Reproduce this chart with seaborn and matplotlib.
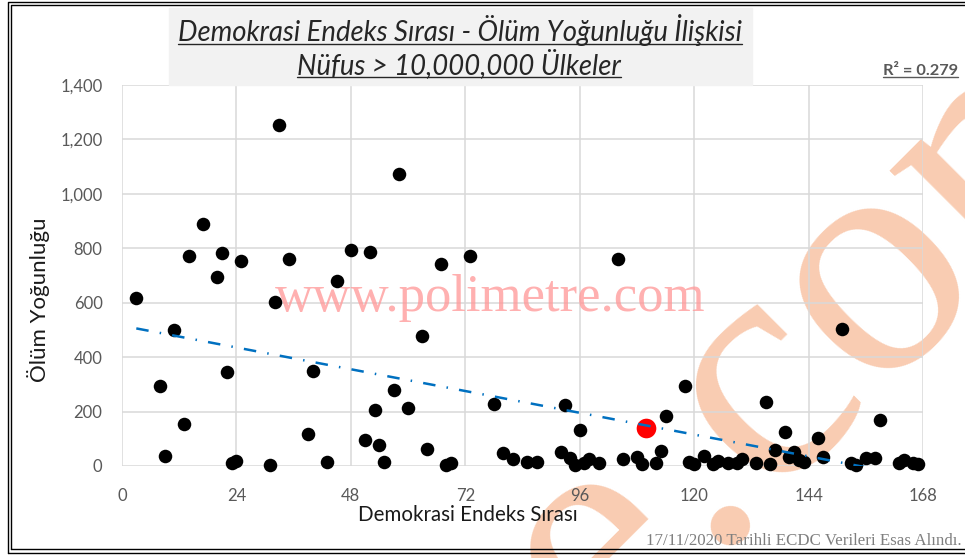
import numpy as np
import pandas as pd
import seaborn as sns
import matplotlib.pyplot as plt
from matplotlib.lines import Line2D

# Degerler (x: demokrasi endeks sirasi, y: olum yogunlugu)
rank = [3, 8, 9, 11, 13, 14, 17, 20, 21, 22, 23, 24, 25, 31, 32, 33, 35, 39, 40, 43,
        45, 48, 51, 52, 53, 54, 55, 57, 58, 60, 63, 64, 67, 68, 69, 73, 78, 80, 82, 85,
        87, 92, 93, 94, 95, 96, 97, 98, 100, 104, 105, 108, 109, 112, 113, 114, 118, 119, 120, 122,
        124, 125, 127, 129, 130, 133, 135, 136, 137, 139, 140, 141, 142, 143, 146, 147, 151, 153, 154, 156,
        158, 159, 163, 164, 166, 167]
deaths = [616, 294, 37, 500, 154, 771, 888, 694, 782, 344, 12, 18, 752, 2, 602, 1252, 761, 116, 348, 14,
          679, 795, 96, 787, 207, 77, 14, 280, 1072, 213, 476, 62, 742, 3, 10, 772, 227, 46, 24, 13,
          13, 51, 223, 31, 5, 134, 10, 24, 10, 761, 25, 34, 9, 10, 54, 183, 295, 16, 9, 36,
          6, 18, 10, 10, 25, 12, 237, 6, 58, 126, 34, 53, 22, 16, 102, 34, 502, 10, 4, 28,
          28, 169, 10, 22, 12, 7]

# Turkiye (kirmizi nokta)
tr_rank = [110]
tr_deaths = [140]

title_lines = ["Demokrasi Endeks Sırası - Ölüm Yoğunluğu İlişkisi",
               "Nüfus > 10,000,000 Ülkeler"]
r2_label = "R² = 0.279"
source_note = "17/11/2020 Tarihli ECDC Verileri Esas Alındı."
xticks = [0, 24, 48, 72, 96, 120, 144, 168]
yticks = [0, 200, 400, 600, 800, 1000, 1200, 1400]

sns.set_style("white")
plt.rcParams['font.family'] = ['Lato', 'DejaVu Sans']

W, H = 965, 558
fig = plt.figure(figsize=(W / 100, H / 100), dpi=100)
fig.patch.set_facecolor('white')

def px(x, y):
    # piksel -> figure orani
    return x / W, 1 - y / H

# buyuk filigran (arka planda)
fig.text(*px(440, 640), "e.com", rotation=45, fontsize=240, family='Liberation Serif',
         color='#f9ccb2', ha='left', va='baseline', zorder=-5)

ax = fig.add_axes([122 / W, 1 - 466 / H, (923 - 122) / W, (466 - 85) / H])
ax.patch.set_alpha(0)

df = pd.DataFrame({'rank': rank, 'deaths': deaths})
sns.scatterplot(data=df, x='rank', y='deaths', color='black', s=95, linewidth=0,
                ax=ax, zorder=3, clip_on=False)
sns.scatterplot(x=tr_rank, y=tr_deaths, color='#ff0000', s=200, linewidth=0,
                ax=ax, zorder=4)
sns.regplot(data=df, x='rank', y='deaths', scatter=False, ci=None, ax=ax,
            line_kws=dict(color='#0070c0', lw=1.8, dashes=(5, 4.5, 0.6, 4.5),
                          zorder=5))

ax.set_xlim(0, 168)
ax.set_ylim(0, 1400)
ax.set_xticks(xticks)
ax.set_yticks(yticks)
ax.set_yticklabels([f"{v:,}" for v in yticks])
ax.grid(True, color='#d9d9d9', lw=1.1)
for s in ax.spines.values():
    s.set_visible(False)
ax.tick_params(length=0, labelsize=12, labelcolor='#595959')
ax.tick_params(axis='x', pad=16)
ax.tick_params(axis='y', pad=14)
ax.set_xlabel("")
ax.set_ylabel("")
fig.text(*px(468, 515), "Demokrasi Endeks Sırası", fontsize=14.8, color='#1a1a1a',
         ha='center', va='center')
fig.text(*px(39, 300), "Ölüm Yoğunluğu", fontsize=16, color='#1a1a1a',
         rotation=90, ha='center', va='center')

# site filigrani
ax.text(0.46, 0.44, "www.polimetre.com", transform=ax.transAxes, fontsize=38,
        family='Liberation Serif', color='#ff9c9c', alpha=0.8, ha='center',
        va='center', zorder=2)

# baslik kutusu
fig.patches.append(plt.Rectangle(px(169, 85), (752 - 169) / W, 77 / H,
                                 transform=fig.transFigure, color='#f2f2f2', zorder=0))
t1 = fig.text(*px(460, 30), title_lines[0], fontsize=19.8, style='italic',
              color='#262626', ha='center', va='center')
t2 = fig.text(*px(459, 64), title_lines[1], fontsize=19.8, style='italic',
              color='#262626', ha='center', va='center')
t3 = fig.text(*px(958, 71), r2_label, fontsize=11.8, weight='bold',
              color='#595959', ha='right', va='center')
fig.text(*px(962, 541), source_note, fontsize=12.2, family='Liberation Serif',
         color='#7f7f7f', ha='right', va='center')

# alti cizili metinler
fig.canvas.draw()
inv = fig.transFigure.inverted()
for t, off in [(t1, 2), (t2, 2), (t3, 1)]:
    bb = t.get_window_extent()
    (x0, y0), (x1, _) = inv.transform([(bb.x0, bb.y0 + off), (bb.x1, bb.y0)])
    fig.lines.append(Line2D([x0, x1], [y0, y0], transform=fig.transFigure,
                            color=t.get_color(), lw=1))

# cift cerceve
for (l, tp, b) in [(8, 2, 553), (11, 5, 549)]:
    fig.lines.append(Line2D([l / W, l / W, 1.01, 1.01, l / W],
                            [1 - b / H, 1 - tp / H, 1 - tp / H, 1 - b / H, 1 - b / H],
                            transform=fig.transFigure, color='black', lw=1))

fig.savefig("out.png", dpi=100)
